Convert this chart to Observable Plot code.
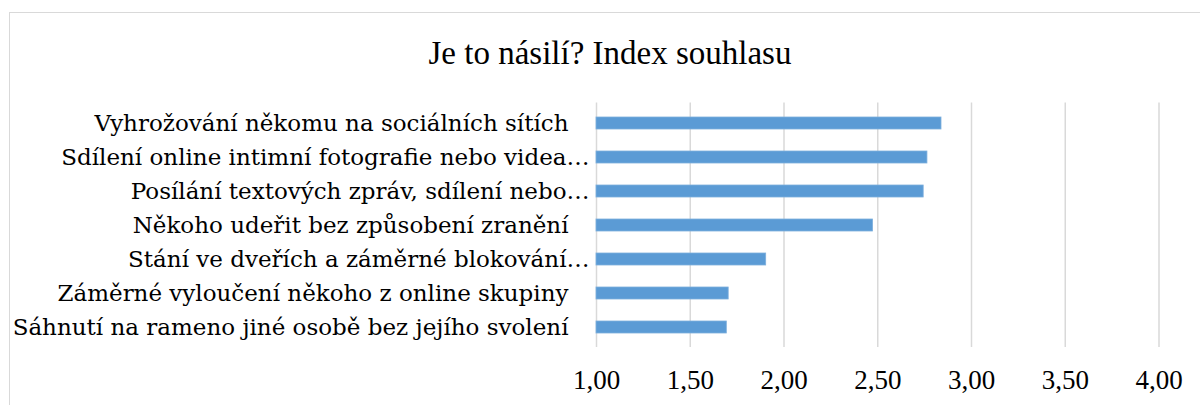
<!DOCTYPE html>
<html>
<head>
<meta charset="utf-8">
<script src="https://cdn.jsdelivr.net/npm/d3@7"></script>
<script src="https://cdn.jsdelivr.net/npm/@observablehq/plot@0.6"></script>
<style>
  html, body { margin: 0; padding: 0; background: #fff; overflow: hidden; }
  #wrap { position: relative; width: 1200px; height: 405px; overflow: hidden; font-family: "Liberation Serif", serif; }
  #frame { position: absolute; left: 9px; top: 12px; width: 1300px; height: 500px; border: 1px solid #d9d9d9; box-sizing: border-box; }
  #title { position: absolute; left: 0; top: 37px; width: 1220px; text-align: center; font-size: 33px; line-height: 33px; color: #000; }
  #chart { position: absolute; left: 0; top: 90px; }
</style>
</head>
<body>
<div id="wrap">
  <div id="frame"></div>
  <div id="title">Je to násilí? Index souhlasu</div>
  <div id="chart"></div>
</div>
<script>
const categories = [
  "Vyhrožování někomu na sociálních sítích",
  "Sdílení online intimní fotografie nebo videa…",
  "Posílání textových zpráv, sdílení nebo…",
  "Někoho udeřit bez způsobení zranění",
  "Stání ve dveřích a záměrné blokování…",
  "Záměrné vyloučení někoho z online skupiny",
  "Sáhnutí na rameno jiné osobě bez jejího svolení"
];
const values = [2.84, 2.765, 2.745, 2.475, 1.905, 1.705, 1.695];
const xTicks = [1, 1.5, 2, 2.5, 3, 3.5, 4];

const data = categories.map((c, i) => ({category: c, value: values[i]}));
const truncated = categories.filter(c => c.endsWith("…"));
const full = categories.filter(c => !c.endsWith("…"));
const fmt = d => d.toFixed(2).replace(".", ",");

const chart = Plot.plot({
  width: 1200,
  height: 315,
  marginLeft: 596,
  marginRight: 41.5,
  marginTop: 12.5,
  marginBottom: 58,
  style: {fontFamily: "Liberation Serif, serif", color: "#000", background: "transparent", overflow: "visible"},
  x: {domain: [1, 4]},
  y: {domain: categories, paddingInner: 0.645, paddingOuter: 0.3225},
  marks: [
    Plot.gridX(xTicks, {stroke: "#d9d9d9", strokeOpacity: 1, strokeWidth: 1.5}),
    Plot.barX(data, {y: "category", x1: 1, x2: "value", fill: "#5b9bd5", stroke: "#7eb0dd", strokeWidth: 0.8}),
    Plot.axisX(xTicks, {tickSize: 0, tickPadding: 22, tickFormat: fmt, fontSize: 27, label: null, fill: "#000"}),
    Plot.axisY(truncated, {tickSize: 0, tickPadding: 7, fontSize: 23, fontFamily: "DejaVu Serif", label: null, fill: "#000"}),
    Plot.axisY(full, {tickSize: 0, tickPadding: 28, fontSize: 23, fontFamily: "DejaVu Serif", label: null, fill: "#000"})
  ]
});
document.getElementById("chart").appendChild(chart);
</script>
</body>
</html>
